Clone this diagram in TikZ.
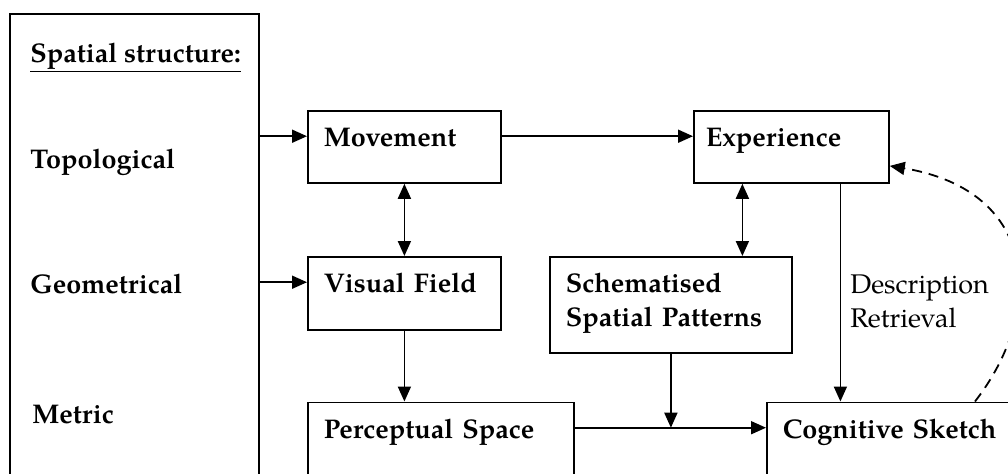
\documentclass[tikz,border=0pt]{standalone}
\usepackage{fontspec}
\setmainfont{texgyrepagella}[Extension=.otf, UprightFont=*-regular, BoldFont=*-bold, ItalicFont=*-italic, BoldItalicFont=*-bolditalic]
\usepackage{tikz}
\usetikzlibrary{arrows.meta, calc}
\hyphenpenalty=10000
\exhyphenpenalty=10000

\begin{document}
\begin{tikzpicture}[
  x=0.5pt, y=-0.5pt,
  sbox/.style={draw, line width=0.9pt, anchor=north west, align=left, inner xsep=8pt, inner ysep=0pt, text height=18pt, font=\fontsize{13.5}{17}\selectfont\bfseries},
  lbl/.style={anchor=base west, inner sep=0pt, font=\fontsize{13.5}{17}\selectfont\bfseries},
  conn/.style={line width=0.9pt, -{Triangle[length=7.5pt, width=6.5pt]}},
  both/.style={line width=0.9pt, {Triangle[length=7.5pt, width=6.5pt]}-{Triangle[length=7.5pt, width=6.5pt]}}
]
  \useasboundingbox (0,0) rectangle (1008,473);
  \clip (0,0) rectangle (1008,473);

  \node[draw, line width=0.9pt, anchor=north west, minimum width=124.5pt, minimum height=260pt, inner sep=0pt] (spatial) at (9,13) {};
  \node[lbl] (heading) at (30,62) {\underline{Spatial structure:}};
  \node[lbl] (topo) at (30,168) {Topological};
  \node[lbl] (geom) at (30,293) {Geometrical};
  \node[lbl] (metric) at (32,423) {Metric};

  \node[sbox, text width=80.5pt, text depth=18pt] (movement) at (307,110) {Movement};
  \node[sbox, text width=80.5pt, text depth=18.5pt] (visual) at (307,256) {Visual Field};
  \node[sbox, text width=85.5pt, inner xsep=6pt, text depth=18pt] (experience) at (693,110) {Experience};
  \node[sbox, text width=105pt, text depth=30pt] (schematised) at (549,256) {Schematised\\Spatial Patterns};
  \node[sbox, text width=117pt, text depth=40pt] (perceptual) at (307,401.5) {Perceptual Space};
  \node[sbox, text width=124pt, text depth=40pt] (cognitive) at (766,401.5) {Cognitive Sketch};
  \node[lbl, font=\fontsize{13.5}{17}\selectfont, align=left] (descr) at (850,327) {Description\\Retrieval};

  \coordinate (inM) at ($(movement.mid west)+(0,-6)$);
  \coordinate (inV) at ($(visual.mid west)+(0,-6)$);
  \coordinate (inE) at ($(experience.mid west)+(0,-6)$);
  \coordinate (inC) at ($(cognitive.mid west)+(0,-6)$);
  \coordinate (eL) at ([xshift=-24.5pt]experience.south);
  \coordinate (eR) at ([xshift=24.5pt]experience.south);
  \coordinate (fb) at ([xshift=104.5pt]cognitive.north west);
  \coordinate (fbEnd) at ([yshift=-9.5pt]experience.east);

  \draw[conn] (spatial.east |- inM) -- (inM);
  \draw[conn] (spatial.east |- inV) -- (inV);
  \draw[conn] (movement.east |- inE) -- (inE);
  \draw[both] (movement.south) -- (visual.north);
  \draw[conn] (visual.south) -- (visual.south |- perceptual.north);
  \draw[both] (eL) -- (eL |- schematised.north);
  \draw[conn] (eR) -- (eR |- cognitive.north);
  \draw[conn] (perceptual.east |- inC) -- (inC);
  \draw[conn] (schematised.south) -- (schematised.south |- inC);
  \draw[conn, dash pattern=on 5pt off 3.5pt] (fb) .. controls +(70,-90) and +(150,25) .. (fbEnd);
\end{tikzpicture}
\end{document}
